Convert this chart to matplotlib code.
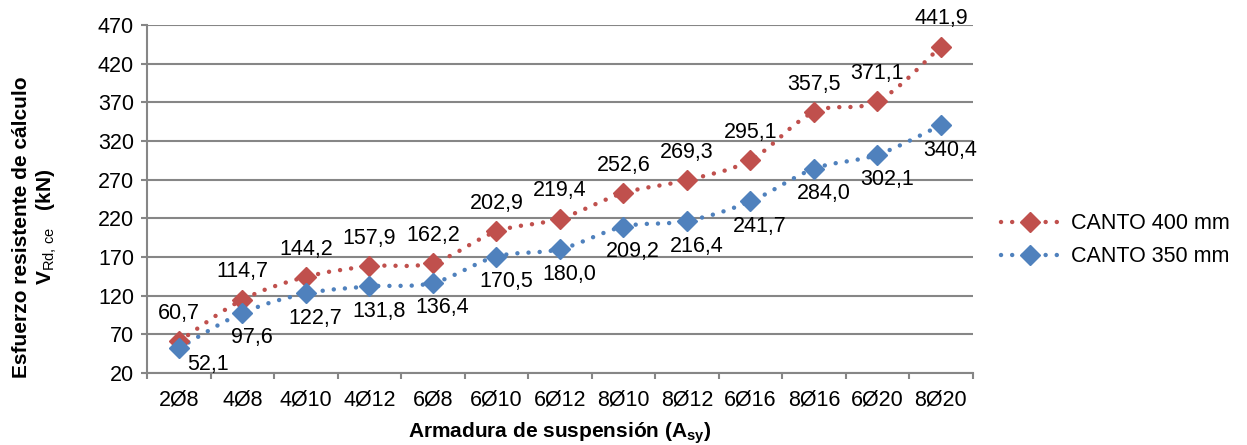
import numpy as np
import matplotlib
matplotlib.use('Agg')
from matplotlib import pyplot as plt
from matplotlib.path import Path
from matplotlib.patches import PathPatch
from matplotlib.lines import Line2D

plt.rcParams['font.family'] = ['Liberation Sans', 'DejaVu Sans']
plt.rcParams['mathtext.fontset'] = 'custom'
plt.rcParams['mathtext.rm'] = 'Liberation Sans'
plt.rcParams['mathtext.it'] = 'Liberation Sans:italic'
plt.rcParams['mathtext.bf'] = 'Liberation Sans:bold'

# Data
categories = ['2Ø8', '4Ø8', '4Ø10', '4Ø12', '6Ø8', '6Ø10', '6Ø12',
              '8Ø10', '8Ø12', '6Ø16', '8Ø16', '6Ø20', '8Ø20']
canto_400 = [60.7, 114.7, 144.2, 157.9, 162.2, 202.9, 219.4,
             252.6, 269.3, 295.1, 357.5, 371.1, 441.9]
canto_350 = [52.1, 97.6, 122.7, 131.8, 136.4, 170.5, 180.0,
             209.2, 216.4, 241.7, 284.0, 302.1, 340.4]
yticks = [20, 70, 120, 170, 220, 270, 320, 370, 420, 470]

red = '#C0504D'
blue = '#4F81BD'
grid_c = '#868686'
fs = 15.5
lab_fs = 15


def smooth_path(x, y):
    # Excel-like smoothed line: cubic Bezier segments (Catmull-Rom, tension 1/6)
    pts = np.column_stack([x, y]).astype(float)
    p = np.vstack([pts[0], pts, pts[-1]])
    verts = [pts[0]]
    codes = [Path.MOVETO]
    for i in range(1, len(p) - 2):
        c1 = p[i] + (p[i + 1] - p[i - 1]) / 6.0
        c2 = p[i + 1] - (p[i + 2] - p[i]) / 6.0
        verts += [c1, c2, p[i + 1]]
        codes += [Path.CURVE4] * 3
    return Path(verts, codes)


fig = plt.figure(figsize=(12.47, 4.45), dpi=100)
ax = fig.add_axes([0.118, 0.162, 0.662, 0.782])

x = np.arange(len(categories))
lw = 3.2
dots = (0, (0.01, 2.5))
ms = 10

for vals, col in [(canto_400, red), (canto_350, blue)]:
    patch = PathPatch(smooth_path(x, vals), facecolor='none', edgecolor=col,
                      linewidth=lw, linestyle=dots, capstyle='round', zorder=3)
    ax.add_patch(patch)
    ax.plot(x, vals, linestyle='none', marker='D', markersize=ms,
            color=col, markeredgecolor=col, zorder=4)

# data labels
for i, v in enumerate(canto_400):
    ax.annotate(f'{v:.1f}'.replace('.', ','), (i, v), xytext=(0, 20),
                textcoords='offset points', ha='center', va='center',
                fontsize=fs, zorder=5)
for i, v in enumerate(canto_350):
    off = (21, -12) if i == 0 else (7, -18)
    ax.annotate(f'{v:.1f}'.replace('.', ','), (i, v), xytext=off,
                textcoords='offset points', ha='center', va='center',
                fontsize=fs, zorder=5)

ax.set_xlim(-0.5, len(categories) - 0.5)
ax.set_ylim(20, 470)
ax.set_yticks(yticks)
ax.set_yticklabels([str(t) for t in yticks], fontsize=fs)
ax.set_xticks(x)
ax.set_xticklabels(categories, fontsize=fs)
ax.set_xticks(np.arange(-0.5, len(categories)), minor=True)
ax.tick_params(axis='x', which='major', length=0, pad=12)
ax.tick_params(axis='x', which='minor', length=4.5, width=1.5, color=grid_c)
ax.tick_params(axis='y', length=4.5, width=1.5, color=grid_c, pad=5)

ax.grid(axis='y', color=grid_c, linewidth=1.5, zorder=0)
ax.set_axisbelow(True)
for s in ['top', 'right']:
    ax.spines[s].set_visible(False)
for s in ['left', 'bottom']:
    ax.spines[s].set_color(grid_c)
    ax.spines[s].set_linewidth(1.5)

ax.set_xlabel(r'Armadura de suspensión ($\mathbf{A_{sy}}$)', fontsize=lab_fs,
              fontweight='bold', labelpad=7)
fig.text(0.017, 0.49, 'Esfuerzo resistente de cálculo', rotation=90,
         ha='center', va='center', fontsize=lab_fs, fontweight='bold')
fig.text(0.038, 0.49, r'$\mathbf{V}_{\mathrm{Rd,\,ce}}$   (kN)', rotation=90,
         ha='center', va='center', fontsize=lab_fs, fontweight='bold')

handles = [Line2D([], [], color=red, linewidth=lw, linestyle=dots,
                  dash_capstyle='round', marker='D', markersize=ms),
           Line2D([], [], color=blue, linewidth=lw, linestyle=dots,
                  dash_capstyle='round', marker='D', markersize=ms)]
fig.legend(handles, ['CANTO 400 mm', 'CANTO 350 mm'], loc='center left',
           bbox_to_anchor=(0.787, 0.46), frameon=False, fontsize=fs,
           numpoints=1, handlelength=2.7, handletextpad=0.55, labelspacing=0.55)

fig.savefig('out.png', dpi=100)
